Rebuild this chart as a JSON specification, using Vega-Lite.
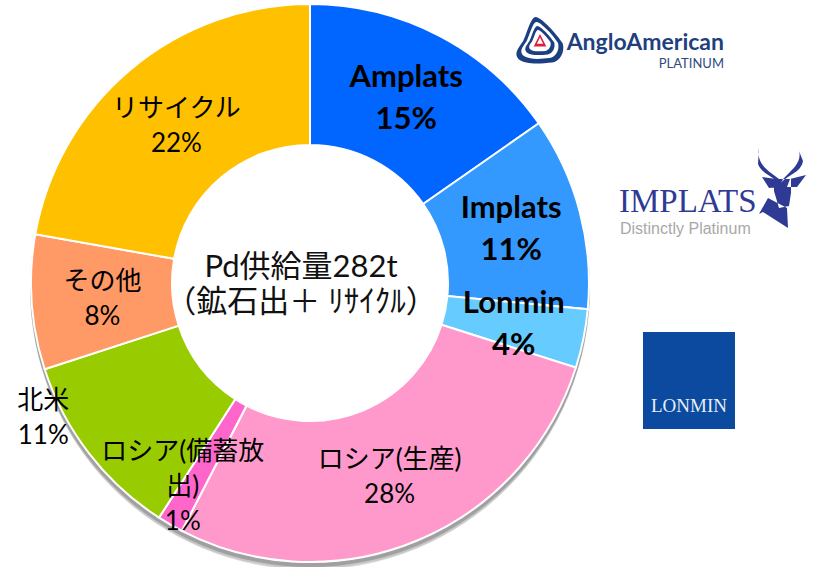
{
"$schema":"https://vega.github.io/schema/vega-lite/v6.json",
"width":813,"height":567,"padding":0,
"autosize":{"type":"fit","contains":"padding"},
"background":"white",
"config":{"view":{"stroke":null},"text":{"font":"Lato, Noto Sans CJK JP"}},
"datasets":{
"shares":[
{"category":"Amplats","share":15.3,"rank":1,"group":"bold","label":"Amplats\n15%"},
{"category":"Implats","share":11.2,"rank":2,"group":"bold","label":"Implats\n11%"},
{"category":"Lonmin","share":3.4,"rank":3,"group":"bold","label":"Lonmin\n4%"},
{"category":"ロシア(生産)","share":27.7,"rank":4,"group":"plain","label":"ロシア(生産)\n28%"},
{"category":"ロシア(備蓄放出)","share":1.5,"rank":5,"group":"reserve","label":"ロシア(備蓄放\n出)\n1%"},
{"category":"北米","share":10.9,"rank":6,"group":"na","label":"北米\n11%"},
{"category":"その他","share":7.8,"rank":7,"group":"plain","label":"その他\n8%"},
{"category":"リサイクル","share":22.2,"rank":8,"group":"plain","label":"リサイクル\n22%"}
],
"one":[{"name":"logo"}]
},
"data":{"name":"shares"},
"layer":[
{"data":{"name":"one"},"mark":{"type":"arc","theta":0,"theta2":6.2832,"innerRadius":220,"outerRadius":279,"fill":"#555","opacity":0.16},"encoding":{"x":{"value":309},"y":{"value":290}}},
{"data":{"name":"one"},"mark":{"type":"arc","theta":0,"theta2":6.2832,"innerRadius":220,"outerRadius":280,"fill":"#555","opacity":0.2},"encoding":{"x":{"value":309},"y":{"value":288}}},
{"data":{"name":"one"},"mark":{"type":"arc","theta":0,"theta2":6.2832,"innerRadius":220,"outerRadius":280,"fill":"#444","opacity":0.3},"encoding":{"x":{"value":309},"y":{"value":286}}},
{"mark":{"type":"arc","innerRadius":138,"outerRadius":279,"stroke":"white","strokeWidth":2},
"encoding":{"x":{"value":309},"y":{"value":282},
"theta":{"field":"share","type":"quantitative","stack":true},
"order":{"field":"rank","type":"ordinal"},
"color":{"field":"category","type":"nominal","legend":null,"scale":{"domain":["Amplats","Implats","Lonmin","ロシア(生産)","ロシア(備蓄放出)","北米","その他","リサイクル"],"range":["#0066FF","#3399FF","#66CCFF","#FF99CC","#FF66CC","#99CC00","#FF9966","#FFC000"]}}}},
{"mark":{"type":"text","radius":208,"dy":-21,"fontSize":31,"fontWeight":"bold","lineBreak":"\n","lineHeight":42,"align":"center","baseline":"middle","color":"black"},
"encoding":{"x":{"value":309},"y":{"value":282},"theta":{"field":"share","type":"quantitative","stack":true},"order":{"field":"rank","type":"ordinal"},"detail":{"field":"category"},
"text":{"condition":{"test":"datum.group==='bold'","field":"label","type":"nominal"},"value":""}}},
{"mark":{"type":"text","radius":208,"dy":-15,"fontSize":26,"lineBreak":"\n","lineHeight":35,"align":"center","baseline":"middle","color":"black"},
"encoding":{"x":{"value":309},"y":{"value":282},"theta":{"field":"share","type":"quantitative","stack":true},"order":{"field":"rank","type":"ordinal"},"detail":{"field":"category"},
"text":{"condition":{"test":"datum.group==='plain'","field":"label","type":"nominal"},"value":""}}},
{"mark":{"type":"text","radius":208,"dx":-102,"dy":-9,"fontSize":26,"lineBreak":"\n","lineHeight":35,"align":"center","baseline":"middle","color":"black"},
"encoding":{"x":{"value":309},"y":{"value":282},"theta":{"field":"share","type":"quantitative","stack":true},"order":{"field":"rank","type":"ordinal"},"detail":{"field":"category"},
"text":{"condition":{"test":"datum.group==='na'","field":"label","type":"nominal"},"value":""}}},
{"mark":{"type":"text","radius":208,"dx":-23,"dy":-11,"fontSize":26,"lineBreak":"\n","lineHeight":35,"align":"center","baseline":"middle","color":"black"},
"encoding":{"x":{"value":309},"y":{"value":282},"theta":{"field":"share","type":"quantitative","stack":true},"order":{"field":"rank","type":"ordinal"},"detail":{"field":"category"},
"text":{"condition":{"test":"datum.group==='reserve'","field":"label","type":"nominal"},"value":""}}},
{"data":{"values":[{"t":"Pd供給量282t\n（鉱石出＋ ﾘｻｲｸﾙ）"}]},"mark":{"type":"text","fontSize":31,"lineBreak":"\n","lineHeight":35,"align":"center","baseline":"middle","color":"#111"},
"encoding":{"x":{"value":300},"y":{"value":267},"text":{"field":"t"}}},

{"data":{"name":"one"},"mark":{"type":"rect","fill":"#0B4A9E"},"encoding":{"x":{"value":642},"x2":{"value":734},"y":{"value":331},"y2":{"value":428}}},
{"data":{"values":[{"t":"LONMIN"}]},"mark":{"type":"text","font":"Liberation Serif","fontSize":19,"color":"#E6EEF8","align":"center","baseline":"middle"},"encoding":{"x":{"value":688},"y":{"value":405},"text":{"field":"t"}}},
{"data":{"values":[{"t":"IMPLATS"}]},"mark":{"type":"text","font":"Liberation Serif","fontSize":33,"color":"#2E3A93","align":"left","baseline":"middle"},"encoding":{"x":{"value":618},"y":{"value":201},"text":{"field":"t"}}},
{"data":{"values":[{"t":"Distinctly Platinum"}]},"mark":{"type":"text","font":"Liberation Sans","fontSize":16,"color":"#A8A8A8","align":"left","baseline":"middle"},"encoding":{"x":{"value":619},"y":{"value":228},"text":{"field":"t"}}},
{"data":{"name":"one"},"mark":{"type":"point","filled":true,"fill":"#2E3A93","stroke":null,"opacity":1,"size":6400,"shape":"M -.55,-1 C -.625,-.675 -.375,-.475 -.25,-.375 L -.05,-.225 L 0,-.125 C -.2,-.275 -.5,-.375 -.575,-.6 Z M .45,-.925 C .525,-.675 .3,-.475 .2,-.375 L .05,-.225 L 0,-.125 C .15,-.325 .5,-.375 .55,-.675 Z M -.475,-.275 L -.125,-.225 L -.05,-.025 L -.3,0 Z M .625,-.325 L .225,-.225 L .15,-.025 L .4,-.025 Z M -.175,-.225 L .25,-.225 L .25,.125 L .2,.45 L -.05,.5 L -.175,.075 Z M -.325,.25 L -.55,.65 L -.45,.6 L .175,1 L .15,.5 Z"},"encoding":{"x":{"value":780},"y":{"value":187}}},

{"data":{"name":"one"},"mark":{"type":"point","filled":true,"fill":"#1B3F80","stroke":null,"opacity":1,"size":2304,"shape":"M -.2,-1 C 0,-1.05 .7,-.3 .95,.1 C 1.05,.5 .8,.85 .5,.9 C 0,.95 -.6,1 -.9,.75 C -1.1,.5 -.9,.3 -.7,0 C -.55,-.3 -.4,-.95 -.2,-1 Z"},"encoding":{"x":{"value":539},"y":{"value":40}}},
{"data":{"name":"one"},"mark":{"type":"point","filled":true,"fill":"white","stroke":null,"opacity":1,"size":1444,"shape":"M -.2,-1 C 0,-1.05 .7,-.3 .95,.1 C 1.05,.5 .8,.85 .5,.9 C 0,.95 -.6,1 -.9,.75 C -1.1,.5 -.9,.3 -.7,0 C -.55,-.3 -.4,-.95 -.2,-1 Z"},"encoding":{"x":{"value":539},"y":{"value":40}}},
{"data":{"name":"one"},"mark":{"type":"point","filled":true,"fill":"#1B3F80","stroke":null,"opacity":1,"size":900,"shape":"M -.2,-1 C 0,-1.05 .7,-.3 .95,.1 C 1.05,.5 .8,.85 .5,.9 C 0,.95 -.6,1 -.9,.75 C -1.1,.5 -.9,.3 -.7,0 C -.55,-.3 -.4,-.95 -.2,-1 Z"},"encoding":{"x":{"value":539},"y":{"value":40}}},
{"data":{"name":"one"},"mark":{"type":"point","filled":true,"fill":"white","stroke":null,"opacity":1,"size":484,"shape":"M -.2,-1 C 0,-1.05 .7,-.3 .95,.1 C 1.05,.5 .8,.85 .5,.9 C 0,.95 -.6,1 -.9,.75 C -1.1,.5 -.9,.3 -.7,0 C -.55,-.3 -.4,-.95 -.2,-1 Z"},"encoding":{"x":{"value":539},"y":{"value":40}}},
{"data":{"name":"one"},"mark":{"type":"point","filled":true,"fill":"#E0203C","stroke":null,"opacity":1,"size":196,"shape":"M 0,-1 L .9,.8 L -.9,.8 Z"},"encoding":{"x":{"value":539},"y":{"value":40}}},
{"data":{"name":"one"},"mark":{"type":"point","filled":true,"fill":"white","stroke":null,"opacity":1,"size":49,"shape":"M 0,-1 L .9,.8 L -.9,.8 Z"},"encoding":{"x":{"value":539},"y":{"value":40}}},
{"data":{"values":[{"t":"AngloAmerican"}]},"mark":{"type":"text","font":"Lato","fontWeight":"bold","fontSize":23,"color":"#1F3F7F","align":"right","baseline":"middle"},"encoding":{"x":{"value":723},"y":{"value":42},"text":{"field":"t"}}},
{"data":{"values":[{"t":"PLATINUM"}]},"mark":{"type":"text","font":"Lato","fontSize":13,"color":"#2F4A80","align":"right","baseline":"middle"},"encoding":{"x":{"value":723},"y":{"value":63},"text":{"field":"t"}}}
]
}
